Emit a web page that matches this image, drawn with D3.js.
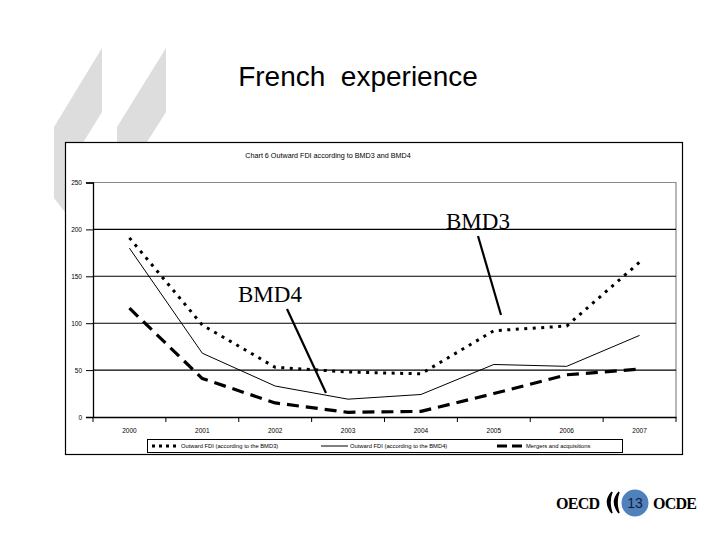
<!DOCTYPE html>
<html>
<head>
<meta charset="utf-8">
<script src="https://cdn.jsdelivr.net/npm/d3@7"></script>
<style>
  html, body { margin: 0; padding: 0; background: #fff; }
  svg { display: block; }
</style>
</head>
<body>
<svg id="chart" width="720" height="540"></svg>
<script>
// ---- data ----
const years = ["2000", "2001", "2002", "2003", "2004", "2005", "2006", "2007"];
const bmd3 = [191, 98, 53, 48, 46, 92, 97, 165];
const bmd4 = [180, 68, 33, 19, 24, 56, 54, 87];
const mergers = [116, 41, 15, 5, 6, 25, 45, 51];
const yTicks = [0, 50, 100, 150, 200, 250];
const seriesNames = [
  "Outward FDI (according to the BMD3)",
  "Outward FDI (according to the BMD4)",
  "Mergers and acquisitions"
];

const svg = d3.select("#chart");

// decorative quote marks
const quoteColor = "#dddddd";
svg.append("path")
  .attr("d", "M102,48 L102,112 L65,172 L65,212 Q60,206 54,198 L54,127 Z")
  .attr("fill", quoteColor);
svg.append("path")
  .attr("d", "M166,48 L166,112 L128,172 L117,172 L117,127 Z")
  .attr("fill", quoteColor);

// main title
svg.append("text")
  .attr("x", 358).attr("y", 86)
  .attr("text-anchor", "middle")
  .attr("font-family", "Liberation Sans, Arial, sans-serif")
  .attr("font-size", 28)
  .attr("xml:space", "preserve")
  .style("white-space", "pre")
  .text("French  experience");

// chart box
svg.append("rect")
  .attr("x", 65.5).attr("y", 142.5).attr("width", 617).attr("height", 312)
  .attr("fill", "#fff").attr("stroke", "#000").attr("stroke-width", 1.2);

svg.append("text")
  .attr("x", 328).attr("y", 158)
  .attr("text-anchor", "middle")
  .attr("font-family", "Liberation Sans, Arial, sans-serif")
  .attr("font-size", 7.2)
  .text("Chart 6  Outward FDI according to BMD3 and BMD4");

// scales
const x = d3.scaleBand().domain(years).range([93, 676]);
const y = d3.scaleLinear().domain([0, 250]).range([417, 182.5]);
const cx = d => x(d) + x.bandwidth() / 2;

// plot border (grey top & right)
svg.append("path")
  .attr("d", `M${x.range()[0]},${y(250)} H${x.range()[1]} V${y(0)}`)
  .attr("fill", "none").attr("stroke", "#888").attr("stroke-width", 1.2);

// gridlines
svg.append("g").selectAll("line")
  .data(yTicks.filter(t => t > 0 && t < 250))
  .join("line")
  .attr("x1", x.range()[0]).attr("x2", x.range()[1])
  .attr("y1", d => y(d)).attr("y2", d => y(d))
  .attr("stroke", "#000").attr("stroke-width", 1.1);

// y axis
const yAxis = svg.append("g")
  .attr("transform", `translate(${x.range()[0]},0)`)
  .call(d3.axisLeft(y).tickValues(yTicks).tickSize(7).tickPadding(4).tickFormat(d3.format("d")));
yAxis.select(".domain").attr("stroke", "#000").attr("stroke-width", 1.3);
yAxis.selectAll(".tick line").attr("stroke", "#000");
yAxis.selectAll("text")
  .attr("font-family", "Liberation Sans, Arial, sans-serif")
  .attr("font-size", 6.5).attr("fill", "#000");

// x axis (ticks at category boundaries)
const xAxis = svg.append("g")
  .attr("transform", `translate(0,${y(0)})`)
  .call(d3.axisBottom(x).tickSize(0).tickPadding(11));
xAxis.select(".domain").attr("stroke", "#000").attr("stroke-width", 1.3);
xAxis.selectAll("text")
  .attr("font-family", "Liberation Sans, Arial, sans-serif")
  .attr("font-size", 6.5).attr("fill", "#000");
const bounds = years.map(d => x(d)).concat([x.range()[1]]);
xAxis.selectAll(".bnd").data(bounds).join("line")
  .attr("class", "bnd")
  .attr("x1", d => d).attr("x2", d => d)
  .attr("y1", 0).attr("y2", 5)
  .attr("stroke", "#000").attr("stroke-width", 1);

// lines
const line = d3.line().x((d, i) => cx(years[i])).y(d => y(d));
const styles = [
  { data: bmd3, width: 3, dash: "3,5.5", cap: "butt" },
  { data: bmd4, width: 1, dash: null, cap: "butt" },
  { data: mergers, width: 3.2, dash: "12,7", cap: "butt" }
];
styles.forEach(s => {
  svg.append("path")
    .datum(s.data)
    .attr("d", line)
    .attr("fill", "none")
    .attr("stroke", "#000")
    .attr("stroke-width", s.width)
    .attr("stroke-dasharray", s.dash)
    .attr("stroke-linejoin", "round");
});

// annotations
const annFont = "Liberation Serif, Times New Roman, serif";
svg.append("text").attr("x", 446).attr("y", 229)
  .attr("font-family", annFont).attr("font-size", 23).text("BMD3");
svg.append("line").attr("x1", 478).attr("y1", 236).attr("x2", 501).attr("y2", 315)
  .attr("stroke", "#000").attr("stroke-width", 2.2);
svg.append("text").attr("x", 238).attr("y", 302)
  .attr("font-family", annFont).attr("font-size", 23).text("BMD4");
svg.append("line").attr("x1", 287).attr("y1", 309).attr("x2", 326).attr("y2", 393)
  .attr("stroke", "#000").attr("stroke-width", 2.2);

// legend
svg.append("rect")
  .attr("x", 147.5).attr("y", 439.5).attr("width", 475).attr("height", 13)
  .attr("fill", "#fff").attr("stroke", "#000").attr("stroke-width", 1);
const legX = [152, 321, 497];
const legG = svg.append("g").selectAll("g").data(seriesNames).join("g")
  .attr("transform", (d, i) => `translate(${legX[i]},446)`);
legG.append("line")
  .attr("x1", 0).attr("x2", 27).attr("y1", 0).attr("y2", 0)
  .attr("stroke", "#000")
  .attr("stroke-width", (d, i) => styles[i].width)
  .attr("stroke-dasharray", (d, i) => i === 0 ? "3,4" : (i === 2 ? "10,5" : null));
legG.append("text")
  .attr("x", 29).attr("y", 2)
  .attr("font-family", "Liberation Sans, Arial, sans-serif")
  .attr("font-size", 5.8)
  .text(d => d);

// footer logo
const logoFont = "Liberation Serif, Times New Roman, serif";
svg.append("text").attr("x", 556).attr("y", 509)
  .attr("font-family", logoFont).attr("font-size", 16).attr("font-weight", "bold")
  .attr("textLength", 44).text("OECD");
svg.append("text").attr("x", 653).attr("y", 509)
  .attr("font-family", logoFont).attr("font-size", 16).attr("font-weight", "bold")
  .attr("textLength", 44).text("OCDE");
svg.append("path")
  .attr("d", "M612,492 Q603,502 612,513 Q608,502 612,492 Z M619,492 Q610,502 619,513 Q615,502 619,492 Z")
  .attr("fill", "#000").attr("stroke", "#000").attr("stroke-width", 1.5);
svg.append("circle").attr("cx", 635).attr("cy", 503).attr("r", 13.5).attr("fill", "#4f81bd");
svg.append("text").attr("x", 635).attr("y", 508)
  .attr("text-anchor", "middle")
  .attr("font-family", "Liberation Sans, Arial, sans-serif")
  .attr("font-size", 14).attr("fill", "#1a1a3a").text("13");
</script>
</body>
</html>
